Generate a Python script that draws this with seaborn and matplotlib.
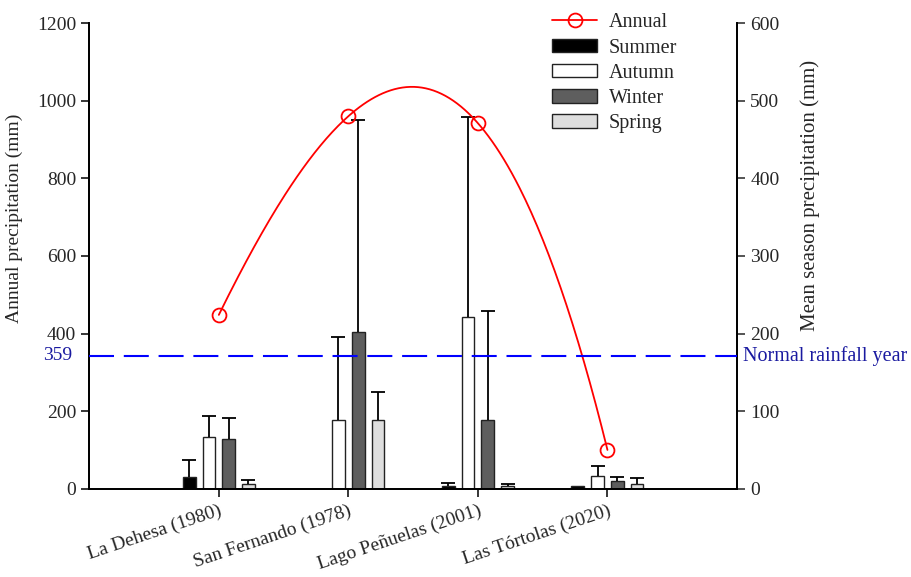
import numpy as np
import pandas as pd
import seaborn as sns
import matplotlib.pyplot as plt
from matplotlib.patches import Patch
from matplotlib.lines import Line2D

sites = ["La Dehesa (1980)", "San Fernando (1978)", "Lago Peñuelas (2001)", "Las Tórtolas (2020)"]
seasons = ["Summer", "Autumn", "Winter", "Spring"]
annual = [448, 960, 942, 100]
summer = [14.5, 0, 4, 3]
autumn = [67, 88, 221, 16.5]
winter = [63.5, 202, 89, 10.5]
spring = [6.5, 89, 3, 6.5]
summer_err = [23, 0, 4, 0]
autumn_err = [27, 108, 258, 12.5]
winter_err = [28, 273, 140, 4.5]
spring_err = [5, 36, 3.5, 7.5]
normal_label = "359"
normal_level = 343  # where the dashed line sits in the figure

colors = {"Summer": "#000000", "Autumn": "#ffffff", "Winter": "#5e5e5e", "Spring": "#dedede"}

sns.set_theme(style="ticks")
plt.rcParams["font.family"] = ["Liberation Serif", "DejaVu Serif"]
plt.rcParams["font.size"] = 14

df = pd.DataFrame({
    "site": np.repeat(sites, 4),
    "season": seasons * 4,
    "value": np.array([summer, autumn, winter, spring]).T.ravel(),
    "err": np.array([summer_err, autumn_err, winter_err, spring_err]).T.ravel(),
})

fig, ax = plt.subplots(figsize=(9.11, 5.77), dpi=100)
fig.subplots_adjust(left=0.098, right=0.809, top=0.96, bottom=0.153)
ax2 = ax.twinx()

width = 0.61
sns.barplot(data=df, x="site", y="value", hue="season", hue_order=seasons,
            palette=colors, ax=ax2, width=width, gap=0.36, errorbar=None,
            edgecolor="#222222", linewidth=1.0, legend=False, zorder=2)

# upper-only error bars with a cap
slot = width / 4
for i, s in enumerate(seasons):
    sub = df[df["season"] == s]
    for j, (v, e) in enumerate(zip(sub["value"], sub["err"])):
        if e <= 0:
            continue
        x = j + (i - 1.5) * slot
        ax2.plot([x, x], [v, v + e], color="black", lw=1.3, zorder=3, solid_capstyle="butt")
        ax2.plot([x], [v + e], marker="_", ms=10, mew=1.3, color="black", zorder=3)

# smooth curve through annual totals
xs = np.arange(len(sites))
coef = np.polyfit(xs, annual, 3)
xf = np.linspace(0, 3, 200)
ax.plot(xf, np.polyval(coef, xf), color="red", lw=1.3, zorder=4)
ax.plot(xs, annual, "o", mfc="none", mec="red", ms=10, mew=1.3, zorder=4)
ax.axhline(normal_level, color="blue", lw=1.5, dashes=(12, 4.7), zorder=4)

ax.set_zorder(ax2.get_zorder() + 1)
ax.patch.set_visible(False)

ax.set_xlim(-1, 4)
ax.set_ylim(0, 1200)
ax2.set_ylim(0, 600)
ax.set_yticks(range(0, 1201, 200))
ax2.set_yticks(range(0, 601, 100))
ax.set_xticks(xs)
ax.set_xticklabels(sites, rotation=18.5, ha="right", rotation_mode="anchor")
ax2.set_xlabel("")
ax.set_xlabel("")
ax.set_ylabel("Annual precipitation (mm)", fontsize=14)
ax.yaxis.set_label_coords(-0.103, 0.58)
ax2.set_ylabel("Mean season precipitation (mm)", fontsize=15)
ax2.yaxis.set_label_coords(1.098, 0.63)
ax.tick_params(axis="both", labelsize=14, length=6, width=1.1, color="black")
ax2.tick_params(axis="y", labelsize=14, length=6, width=1.1)
for a in (ax, ax2):
    a.spines["top"].set_visible(False)
    for sp in a.spines.values():
        sp.set_linewidth(1.3)
        sp.set_color("black")

ax.text(-0.026, normal_level, normal_label, transform=ax.get_yaxis_transform(),
        ha="right", va="center", color="#1a1aa0", fontsize=14)
ax.text(1.009, normal_level, "Normal rainfall year", transform=ax.get_yaxis_transform(),
        ha="left", va="center", color="#1a1aa0", fontsize=14.5)

handles = [Line2D([], [], color="red", marker="o", mfc="none", mec="red", ms=10, mew=1.3, lw=1.3)]
handles += [Patch(facecolor=colors[s], edgecolor="#222222", linewidth=1.0) for s in seasons]
ax.legend(handles, ["Annual"] + seasons, loc="upper left", bbox_to_anchor=(0.687, 1.06),
          frameon=False, fontsize=14.5, handlelength=2.2, handleheight=0.65,
          labelspacing=0.31, handletextpad=0.6)

fig.savefig("out.png", dpi=100)
